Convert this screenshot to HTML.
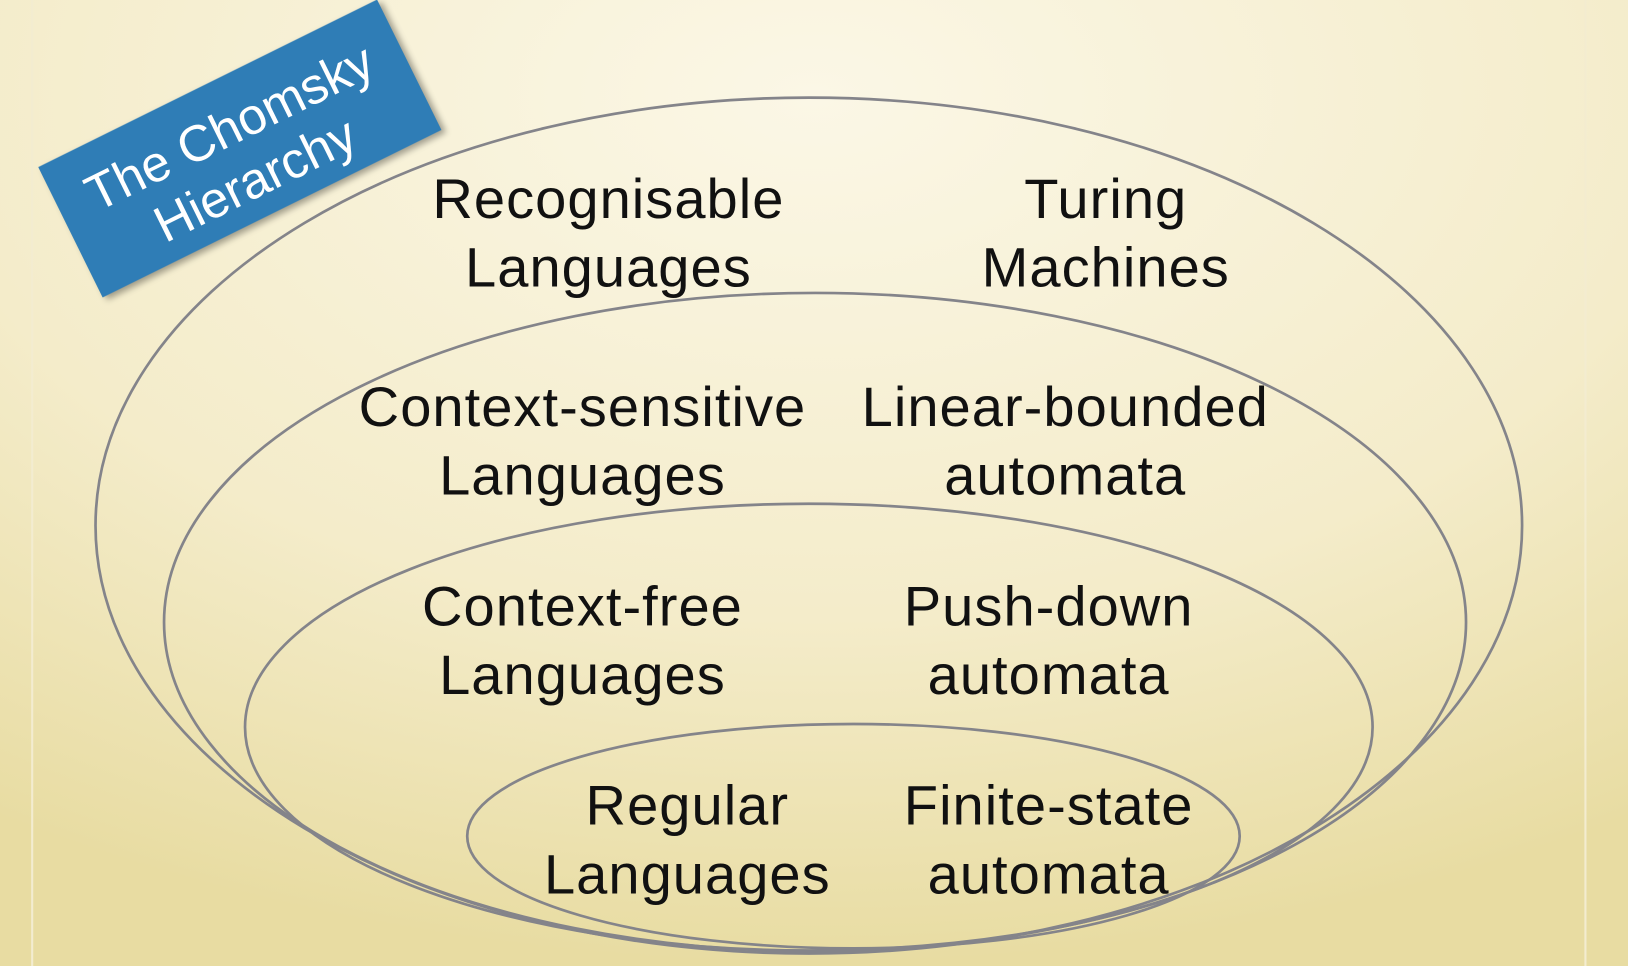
<!DOCTYPE html>
<html><head><meta charset="utf-8"><style>
html,body{margin:0;padding:0;width:1628px;height:966px;overflow:hidden}
svg{display:block}
</style></head><body>
<svg width="1628" height="966" viewBox="0 0 1568 930" preserveAspectRatio="none" xmlns="http://www.w3.org/2000/svg">
<defs>
<radialGradient id="bg" cx="50%" cy="10%" r="90%">
<stop offset="0" stop-color="#fbf7e6"/>
<stop offset="0.6" stop-color="#f4ecca"/>
<stop offset="1" stop-color="#e8dca2"/>
</radialGradient>
</defs>
<rect width="1568" height="930" fill="url(#bg)"/>
<line x1="31" y1="0" x2="31" y2="930" stroke="#f3ecd0" stroke-width="2"/>
<line x1="1527" y1="0" x2="1527" y2="930" stroke="#f3ecd0" stroke-width="2"/>
<g fill="none" stroke="#84848a" stroke-width="2.6">
<ellipse cx="779" cy="506" rx="687" ry="412"/>
<ellipse cx="785" cy="599" rx="627" ry="317"/>
<ellipse cx="779" cy="700" rx="543" ry="215"/>
<ellipse cx="822" cy="805" rx="372" ry="108"/>
</g>
<g transform="translate(231,143) rotate(-26.3)">
<rect x="-182" y="-70" width="364" height="140" fill="#2f7db6" style="filter:drop-shadow(3px 4px 3px rgba(0,0,0,0.35))"/>
<g fill="#fff" font-family="Liberation Sans, sans-serif" font-size="49" text-anchor="middle">
<text x="0" y="-6">The Chomsky</text>
<text x="0" y="50">Hierarchy</text>
</g>
</g>
<g fill="#111" font-family="Liberation Sans, sans-serif" font-size="54" letter-spacing="1" text-anchor="middle">
<text x="586" y="210">Recognisable</text>
<text x="586" y="276">Languages</text>
<text x="1065" y="210">Turing</text>
<text x="1065" y="276">Machines</text>
<text x="561" y="410">Context-sensitive</text>
<text x="561" y="476">Languages</text>
<text x="1026" y="410">Linear-bounded</text>
<text x="1026" y="476">automata</text>
<text x="561" y="602">Context-free</text>
<text x="561" y="668">Languages</text>
<text x="1010" y="602">Push-down</text>
<text x="1010" y="668">automata</text>
<text x="662" y="794">Regular</text>
<text x="662" y="860">Languages</text>
<text x="1010" y="794">Finite-state</text>
<text x="1010" y="860">automata</text>
</g>
</svg>
</body></html>
